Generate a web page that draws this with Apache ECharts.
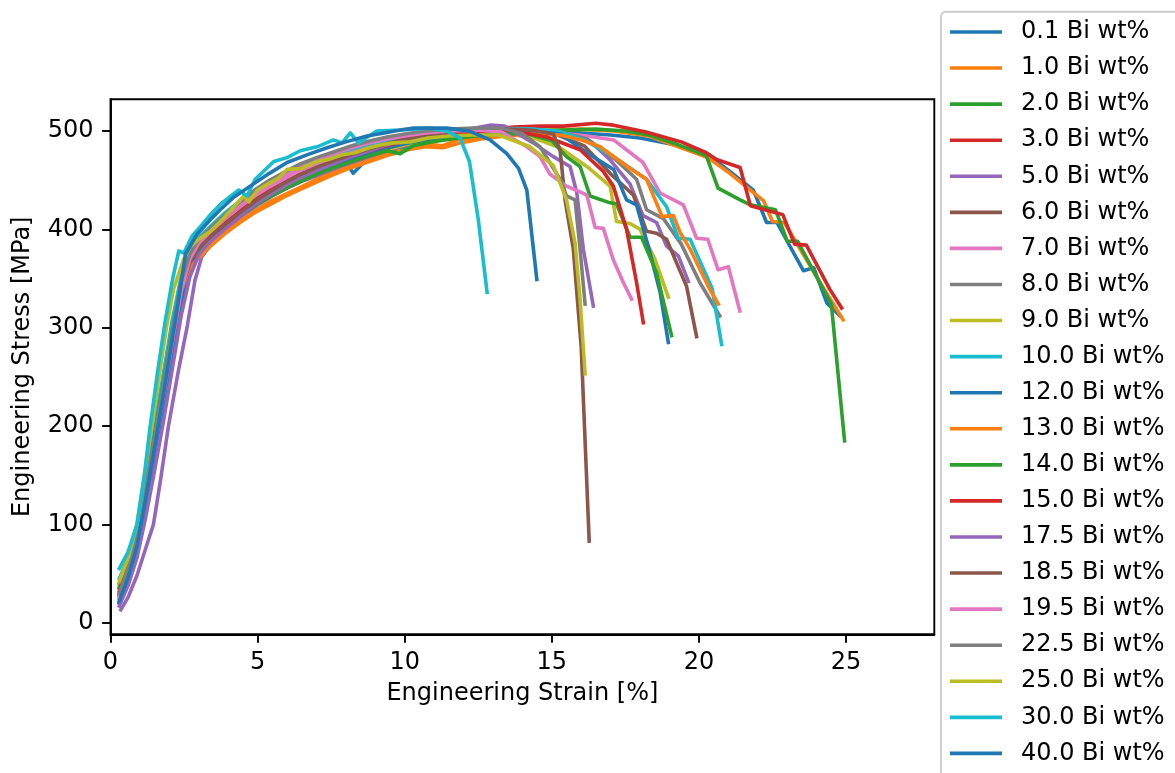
<!DOCTYPE html>
<html>
<head>
<meta charset="utf-8">
<script src="https://cdn.jsdelivr.net/npm/echarts@6/dist/echarts.min.js"></script>
<style>
  html, body { margin: 0; padding: 0; background: #fff; }
  #chart { width: 1175px; height: 773px; }
</style>
</head>
<body>
<div id="chart"></div>
<script>
// Engineering stress–strain curves, one per Bi content: [strain %, stress MPa]
const bi_0_1 = [[0.3,20],[0.7,52],[1.0,82],[1.3,128],[1.6,178],[1.9,230],[2.2,283],[2.5,335],[2.8,366],[3.1,382],[3.5,393],[4.0,405],[4.5,416],[5.0,426],[5.5,435],[6.0,443],[6.6,451],[7.2,459],[7.7,465],[8.0,469],[8.25,457],[8.7,471],[9.3,483],[9.9,488],[10.5,492],[11.2,495],[12.0,498],[13.0,500],[14.0,501],[15.0,500],[16.0,498],[17.0,496],[18.0,493],[19.0,487],[19.8,481],[20.3,476],[21.05,459],[21.85,440],[22.3,407],[22.65,407],[23.55,358],[23.9,361],[24.35,325],[24.8,312]];
const bi_1_0 = [[0.3,30],[0.6,55],[0.9,88],[1.2,135],[1.5,185],[1.8,237],[2.1,290],[2.4,340],[2.7,362],[3.0,372],[3.4,385],[3.9,398],[4.4,409],[4.9,419],[5.4,428],[5.9,435],[6.4,442],[7.0,451],[7.6,459],[8.2,466],[8.8,472],[9.5,479],[10.1,484],[10.7,487],[11.27,485],[11.8,491],[12.5,494],[13.3,497],[14.2,499],[15.0,501],[16.0,502],[17.1,500],[18.3,495],[19.4,483],[20.3,473],[21.05,457],[21.75,440],[22.2,429],[22.5,408],[22.9,407],[23.5,377],[24.2,342],[24.9,308]];
const bi_2_0 = [[0.3,40],[0.6,62],[0.9,95],[1.2,145],[1.5,196],[1.8,248],[2.1,300],[2.4,348],[2.7,370],[3.0,382],[3.4,393],[3.9,405],[4.4,416],[4.9,426],[5.4,435],[5.9,443],[6.4,450],[7.0,457],[7.6,464],[8.2,470],[8.8,475],[9.4,480],[9.8,478],[10.2,487],[10.8,490],[11.4,493],[12.2,496],[13.0,498],[14.0,500],[15.4,501],[16.5,502],[17.5,500],[18.3,496],[19.3,486],[20.25,475],[20.65,442],[21.4,430],[21.75,425],[22.6,420],[23.0,388],[23.35,388],[24.5,324],[24.95,185]];
const bi_3_0 = [[0.3,35],[0.6,58],[0.9,90],[1.2,140],[1.5,190],[1.8,242],[2.1,295],[2.4,345],[2.7,370],[3.0,384],[3.4,395],[3.9,408],[4.4,420],[4.9,430],[5.4,439],[5.9,447],[6.4,454],[7.0,461],[7.6,467],[8.2,473],[8.8,479],[9.4,484],[10.0,489],[10.7,493],[11.4,496],[12.2,499],[13.0,502],[13.7,504],[14.6,505],[15.4,505],[16.5,508],[17.1,506],[18.2,499],[19.4,489],[20.25,478],[20.6,471],[21.4,463],[21.75,424],[22.85,415],[23.25,385],[23.65,384],[24.45,339],[24.85,320]];
const bi_5_0 = [[0.35,13],[0.6,26],[0.9,48],[1.2,76],[1.46,100],[1.7,145],[1.97,200],[2.3,255],[2.6,300],[2.87,348],[3.1,372],[3.5,388],[4.0,403],[4.5,415],[5.0,425],[5.5,434],[6.0,442],[6.6,450],[7.2,457],[7.8,464],[8.4,470],[9.0,476],[9.6,482],[10.3,487],[11.0,491],[11.8,495],[12.6,498],[13.5,500],[14.5,500],[15.5,497],[16.3,490],[17.0,470],[17.66,446],[18.1,414],[18.56,407],[18.9,383],[19.3,373],[19.64,347]];
const bi_6_0 = [[0.3,25],[0.6,48],[0.9,80],[1.2,128],[1.5,178],[1.8,230],[2.1,283],[2.4,335],[2.7,366],[3.0,380],[3.4,392],[3.9,406],[4.4,419],[4.9,430],[5.4,440],[5.9,448],[6.4,456],[7.0,463],[7.6,470],[8.2,476],[8.8,481],[9.4,486],[10.0,490],[10.7,494],[11.5,497],[12.4,499],[13.3,500],[14.3,499],[15.2,496],[16.1,485],[16.98,457],[17.77,435],[18.22,398],[18.56,396],[18.9,390],[19.58,342],[19.92,291]];
const bi_7_0 = [[0.3,22],[0.6,46],[0.9,78],[1.2,125],[1.5,175],[1.8,228],[2.1,282],[2.4,334],[2.7,367],[3.0,383],[3.4,395],[3.9,410],[4.4,423],[4.9,434],[5.4,443],[5.9,451],[6.4,459],[7.0,467],[7.6,473],[8.2,479],[8.8,484],[9.4,488],[10.0,492],[10.7,496],[11.5,498],[12.4,500],[13.3,501],[14.3,500],[15.3,498],[16.2,495],[17.1,491],[18.1,468],[18.68,437],[19.47,425],[19.92,391],[20.3,390],[20.65,359],[21.0,362],[21.39,317]];
const bi_8_0 = [[0.3,20],[0.6,44],[0.9,76],[1.2,124],[1.5,176],[1.8,229],[2.1,283],[2.4,336],[2.7,369],[3.0,386],[3.4,398],[3.9,412],[4.4,425],[4.9,437],[5.4,447],[5.9,455],[6.4,462],[7.0,469],[7.6,476],[8.2,482],[8.8,487],[9.4,491],[10.0,495],[10.7,498],[11.5,500],[12.4,502],[13.3,503],[14.3,502],[15.3,499],[16.2,492],[17.2,470],[17.88,451],[18.22,420],[18.79,411],[19.4,385],[20.03,346],[20.71,312]];
const bi_9_0 = [[0.3,38],[0.6,62],[0.9,96],[1.2,146],[1.5,197],[1.8,250],[2.1,303],[2.4,350],[2.7,371],[3.0,381],[3.4,391],[3.9,403],[4.4,415],[4.9,425],[5.4,434],[5.9,442],[6.4,449],[7.0,457],[7.6,464],[8.2,470],[8.8,476],[9.4,481],[10.0,486],[10.7,490],[11.5,493],[12.4,496],[13.3,497],[14.3,494],[15.28,483],[16.19,464],[16.98,444],[17.2,408],[17.66,406],[18.0,400],[18.5,370],[18.96,331]];
const bi_10_0 = [[0.3,45],[0.6,66],[0.9,98],[1.2,148],[1.5,200],[1.8,254],[2.1,308],[2.4,352],[2.7,378],[3.0,392],[3.4,403],[3.9,417],[4.4,429],[4.9,439],[5.4,448],[5.9,456],[6.4,463],[7.0,470],[7.6,476],[8.2,482],[8.8,487],[9.4,491],[10.0,495],[10.7,498],[11.5,500],[12.4,501],[13.3,502],[14.3,502],[15.2,500],[16.1,491],[17.1,474],[18.22,451],[18.9,423],[19.3,391],[19.7,390],[20.45,340],[20.77,283]];
const bi_12_0 = [[0.3,20],[0.6,42],[0.9,72],[1.2,117],[1.5,166],[1.8,218],[2.1,272],[2.4,325],[2.7,360],[3.0,377],[3.4,389],[3.9,402],[4.4,414],[4.9,424],[5.4,433],[5.9,441],[6.4,448],[7.0,456],[7.5,463],[8.1,470],[8.7,476],[9.3,482],[10.0,487],[10.7,491],[11.5,494],[12.4,497],[13.3,499],[14.3,500],[15.3,497],[16.19,478],[17.1,461],[17.54,430],[17.88,425],[18.34,376],[18.68,336],[18.96,285]];
const bi_13_0 = [[0.3,28],[0.6,52],[0.9,85],[1.2,132],[1.5,182],[1.8,234],[2.1,287],[2.4,337],[2.7,361],[3.0,371],[3.4,383],[3.9,396],[4.4,407],[4.9,417],[5.4,425],[5.9,433],[6.4,440],[7.0,448],[7.6,456],[8.2,463],[8.8,469],[9.5,476],[10.1,481],[10.7,484],[11.3,483],[11.9,488],[12.6,492],[13.4,495],[14.3,497],[15.3,496],[16.0,491],[16.64,484],[17.66,462],[18.22,451],[18.75,413],[19.13,414],[19.36,397],[19.7,380],[20.37,339],[20.66,324]];
const bi_14_0 = [[0.3,36],[0.6,59],[0.9,92],[1.2,141],[1.5,192],[1.8,245],[2.1,298],[2.4,346],[2.7,368],[3.0,380],[3.4,390],[3.9,403],[4.4,414],[4.9,424],[5.4,433],[5.9,441],[6.4,448],[7.0,456],[7.6,463],[8.2,469],[8.8,475],[9.4,480],[9.84,477],[10.3,485],[10.9,489],[11.6,492],[12.4,495],[13.3,497],[14.2,497],[15.0,490],[15.5,474],[15.96,464],[16.3,434],[16.98,427],[17.2,426],[17.66,392],[18.05,392],[18.56,356],[19.07,292]];
const bi_15_0 = [[0.3,32],[0.6,56],[0.9,88],[1.2,137],[1.5,187],[1.8,239],[2.1,292],[2.4,342],[2.7,368],[3.0,382],[3.4,393],[3.9,406],[4.4,418],[4.9,429],[5.4,439],[5.9,447],[6.4,455],[7.0,462],[7.6,469],[8.2,475],[8.8,480],[9.4,485],[10.0,490],[10.7,494],[11.5,497],[12.4,499],[13.47,501],[14.83,494],[15.96,481],[16.75,459],[17.09,444],[17.54,400],[17.88,346],[18.11,305]];
const bi_17_5 = [[0.3,17],[0.6,38],[0.9,66],[1.2,108],[1.5,155],[1.8,205],[2.1,258],[2.4,312],[2.7,352],[3.0,374],[3.4,388],[3.9,401],[4.4,414],[4.9,425],[5.4,435],[5.9,444],[6.4,452],[7.0,460],[7.6,467],[8.2,474],[8.8,480],[9.4,486],[10.0,491],[10.7,495],[11.5,499],[12.4,503],[12.9,506],[13.4,505],[14.37,488],[15.05,474],[15.62,464],[15.85,437],[16.07,380],[16.41,322]];
const bi_18_5 = [[0.3,28],[0.6,51],[0.9,84],[1.2,131],[1.5,181],[1.8,233],[2.1,286],[2.4,337],[2.7,366],[3.0,381],[3.4,393],[3.9,405],[4.4,417],[4.9,428],[5.4,438],[5.9,447],[6.4,455],[7.0,463],[7.6,470],[8.2,476],[8.8,482],[9.4,487],[10.0,492],[10.7,496],[11.5,499],[12.4,501],[13.3,502],[14.3,501],[15.05,497],[15.28,481],[15.45,430],[15.73,380],[16.0,280],[16.27,83]];
const bi_19_5 = [[0.3,25],[0.6,48],[0.9,80],[1.2,127],[1.5,178],[1.8,231],[2.1,285],[2.4,337],[2.7,370],[3.0,386],[3.4,398],[3.9,412],[4.4,425],[4.9,436],[5.4,446],[5.9,454],[6.4,462],[7.0,470],[7.6,477],[8.2,483],[8.8,488],[9.4,492],[10.0,495],[10.7,498],[11.5,500],[12.4,501],[13.3,499],[14.15,484],[14.6,474],[14.94,456],[15.5,444],[16.19,435],[16.47,402],[16.75,401],[17.09,369],[17.43,346],[17.71,329]];
const bi_22_5 = [[0.3,30],[0.6,55],[0.9,88],[1.2,138],[1.5,190],[1.8,243],[2.1,297],[2.4,347],[2.7,375],[3.0,390],[3.4,401],[3.9,415],[4.4,428],[4.9,440],[5.4,450],[5.9,458],[6.4,466],[7.0,473],[7.6,479],[8.2,485],[8.8,490],[9.4,494],[10.0,497],[10.7,500],[11.5,502],[12.4,503],[13.3,503],[14.0,497],[14.6,484],[15.28,451],[15.5,434],[15.79,430],[15.96,380],[16.13,324]];
const bi_25_0 = [[0.3,42],[0.6,66],[0.9,100],[1.15,150],[1.4,198],[1.65,250],[1.9,300],[2.15,340],[2.48,369],[2.7,382],[3.0,390],[3.4,398],[3.8,410],[4.2,423],[4.53,434],[4.7,428],[5.0,440],[5.4,447],[5.7,452],[6.0,461],[6.5,462],[7.0,469],[7.4,471],[7.9,476],[8.3,478],[8.8,483],[9.2,486],[9.62,488],[10.2,489],[10.8,493],[11.5,495],[12.3,496],[13.2,496],[14.26,484],[15.05,465],[15.5,430],[15.79,386],[15.96,329],[16.13,253]];
const bi_30_0 = [[0.3,55],[0.6,72],[0.9,100],[1.15,150],[1.35,200],[1.6,255],[1.85,305],[2.1,348],[2.32,378],[2.49,376],[2.77,393],[3.06,403],[3.34,413],[3.79,427],[4.36,440],[4.64,434],[4.92,451],[5.55,469],[6.0,473],[6.45,480],[7.02,484],[7.58,491],[7.87,488],[8.15,498],[8.43,488],[9.05,500],[9.85,501],[10.87,503],[11.43,500],[11.88,493],[12.2,469],[12.5,410],[12.8,336]];
const bi_40_0 = [[0.3,22],[0.6,46],[0.9,78],[1.2,126],[1.5,178],[1.8,232],[2.1,288],[2.35,335],[2.55,375],[2.94,395],[3.4,410],[3.73,420],[4.2,433],[4.75,444],[5.4,457],[6.0,468],[6.7,476],[7.36,483],[8.0,489],[8.72,495],[9.3,498],[9.85,501],[10.3,503],[11.43,503],[12.2,500],[12.9,491],[13.47,477],[13.87,462],[14.15,440],[14.49,349]];

const labels = ['0.1 Bi wt%','1.0 Bi wt%','2.0 Bi wt%','3.0 Bi wt%','5.0 Bi wt%','6.0 Bi wt%','7.0 Bi wt%','8.0 Bi wt%','9.0 Bi wt%','10.0 Bi wt%','12.0 Bi wt%','13.0 Bi wt%','14.0 Bi wt%','15.0 Bi wt%','17.5 Bi wt%','18.5 Bi wt%','19.5 Bi wt%','22.5 Bi wt%','25.0 Bi wt%','30.0 Bi wt%','40.0 Bi wt%'];
const curves = [bi_0_1, bi_1_0, bi_2_0, bi_3_0, bi_5_0, bi_6_0, bi_7_0, bi_8_0, bi_9_0, bi_10_0, bi_12_0, bi_13_0, bi_14_0, bi_15_0, bi_17_5, bi_18_5, bi_19_5, bi_22_5, bi_25_0, bi_30_0, bi_40_0];

const xTicks = [0, 5, 10, 15, 20, 25];
const yTicks = [0, 100, 200, 300, 400, 500];

const palette = ['#1f77b4','#ff7f0e','#2ca02c','#d62728','#9467bd','#8c564b','#e377c2','#7f7f7f','#bcbd22','#17becf'];
const FONT = 'DejaVu Sans';
const axisText = { fontSize: 24, color: '#000', fontFamily: FONT };

const series = curves.map((pts, i) => {
  const c = palette[i % palette.length];
  return {
    type: 'line',
    name: labels[i],
    data: pts,
    showSymbol: false,
    symbol: 'none',
    clip: true,
    lineStyle: { width: 3.6, color: c, join: 'round', cap: 'square' },
    itemStyle: { color: c },
    emphasis: { disabled: true },
    z: 2
  };
});

const chart = echarts.init(document.getElementById('chart'), null, { renderer: 'canvas' });
chart.setOption({
  animation: false,
  backgroundColor: '#fff',
  grid: {
    left: 110.5, right: 240.7, top: 99.3, bottom: 138.7,
    show: true, borderColor: '#000', borderWidth: 1.9, backgroundColor: 'transparent'
  },
  xAxis: {
    type: 'value', min: 0, max: 28,
    name: 'Engineering Strain [%]', nameLocation: 'middle', nameGap: 47,
    nameTextStyle: axisText,
    axisLine: { show: true, onZero: false, lineStyle: { color: '#000', width: 1.9 } },
    axisTick: { show: true, inside: false, length: 8.4, lineStyle: { color: '#000', width: 1.9 }, customValues: xTicks },
    axisLabel: Object.assign({ margin: 16, customValues: xTicks }, axisText),
    splitLine: { show: false }
  },
  yAxis: {
    type: 'value', min: -11.8, max: 532.3,
    name: 'Engineering Stress [MPa]', nameLocation: 'middle', nameGap: 76, nameRotate: 90,
    nameTextStyle: axisText,
    axisLine: { show: true, onZero: false, lineStyle: { color: '#000', width: 1.9 } },
    axisTick: { show: true, inside: false, length: 8.4, lineStyle: { color: '#000', width: 1.9 }, customValues: yTicks },
    axisLabel: Object.assign({ margin: 17, customValues: yTicks }, axisText),
    splitLine: { show: false }
  },
  // legend frame, running past the right and bottom edges of the canvas
  graphic: [{
    type: 'rect', z: 1,
    shape: { x: 941, y: 11.7, width: 320, height: 820, r: 5 },
    style: { fill: 'rgba(255,255,255,0.8)', stroke: '#cccccc', lineWidth: 1.9 }
  }],
  legend: {
    orient: 'vertical',
    left: 950, top: 20,
    padding: 0,
    z: 5,
    itemWidth: 52, itemHeight: 3.6, itemGap: 12.07,
    icon: 'rect',
    selectedMode: false,
    textStyle: { fontSize: 24, color: '#000', fontFamily: FONT, lineHeight: 24, padding: [0, 0, 0, 14] },
    data: labels
  },
  series: series
});
</script>
</body>
</html>
